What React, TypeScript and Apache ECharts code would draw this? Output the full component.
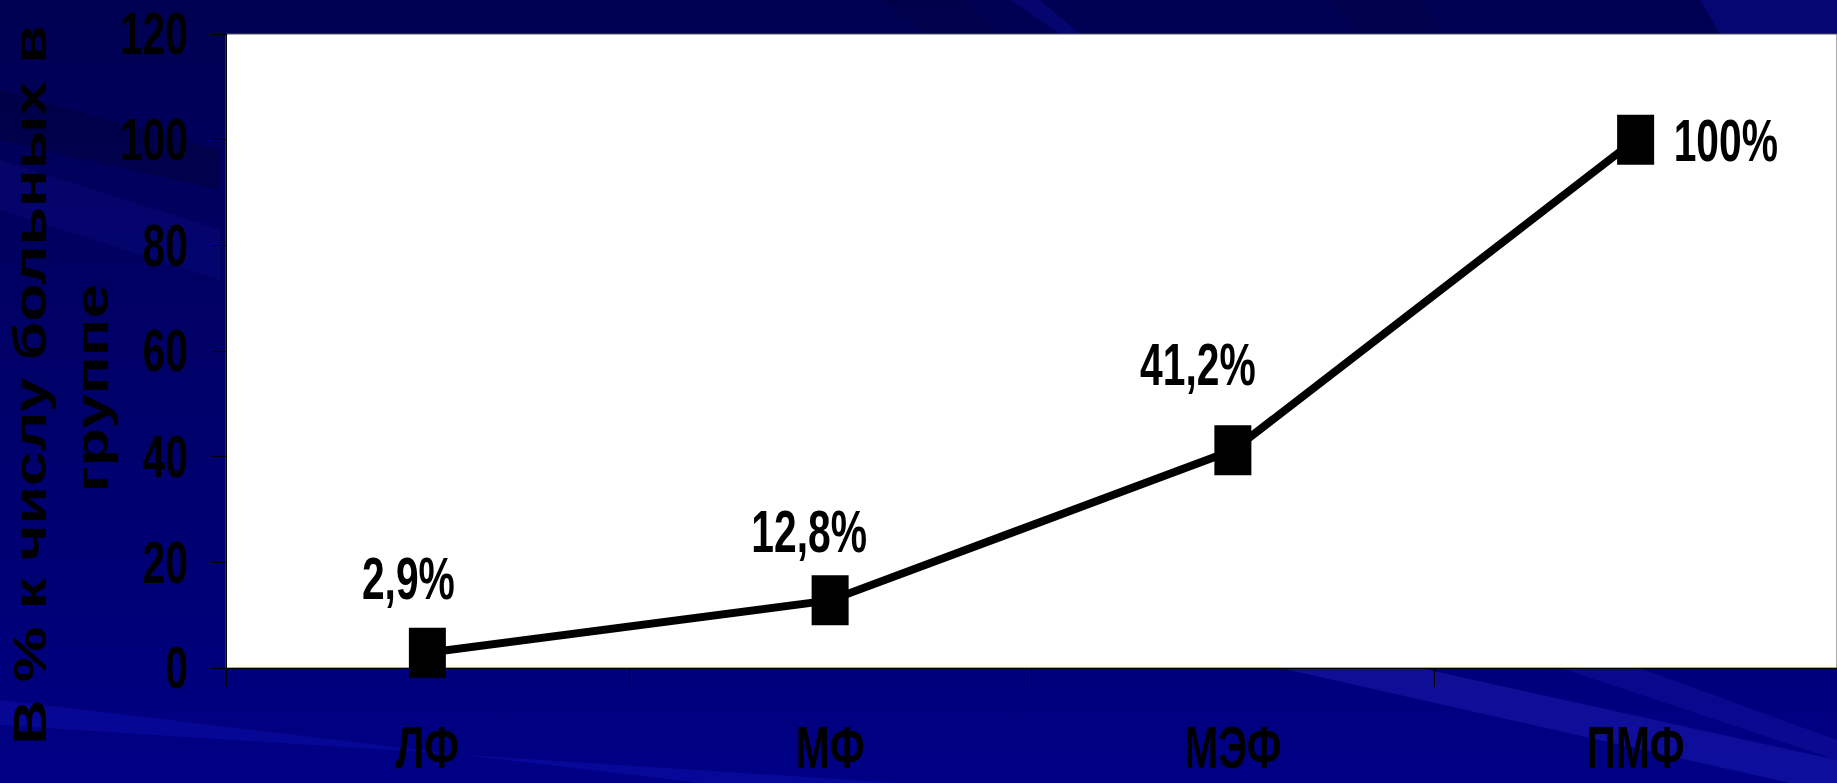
import React, { useEffect, useRef } from "react";
import * as echarts from "echarts";

// Groups along the x axis and the share of patients in each (percent)
const categories = ["ЛФ", "МФ", "МЭФ", "ПМФ"];
const percentValues = [2.9, 12.8, 41.2, 100];

// Value axis range
const yMin = 0;
const yMax = 120;
const yStep = 20;

// Axis title, two lines
const yTitleLines = ["В % к числу больных в", "группе"];

const FONT = "'Liberation Sans', Arial, sans-serif";
// tall, narrow lettering for numbers and group names
const NARROW_SCALE = 0.68;
const NARROW_SIZE = 60;

const GRID = { left: 226, top: 34, right: 0, bottom: 115 };

const formatPercent = (v: number) => String(v).replace(".", ",") + "%";

export default function App() {
  const ref = useRef<HTMLDivElement | null>(null);

  useEffect(() => {
    if (!ref.current) return;
    const chart = echarts.init(ref.current, undefined, { renderer: "svg" });

    chart.setOption({
      animation: false,
      backgroundColor: "transparent",
      grid: {
        ...GRID,
        show: true,
        backgroundColor: "#ffffff",
        borderColor: "#555555",
        borderWidth: 1,
      },
      xAxis: {
        type: "category",
        data: categories,
        boundaryGap: true,
        axisLine: { show: true, lineStyle: { color: "#000000", width: 1 } },
        axisTick: { show: true, length: 19, lineStyle: { color: "#000000", width: 1 } },
        axisLabel: { show: false },
        splitLine: { show: false },
      },
      yAxis: {
        type: "value",
        min: yMin,
        max: yMax,
        interval: yStep,
        axisLine: { show: true, lineStyle: { color: "#000000", width: 1 } },
        axisTick: { show: true, length: 14, lineStyle: { color: "#000000", width: 1 } },
        axisLabel: { show: false },
        splitLine: { show: false },
      },
      series: [
        {
          type: "line",
          data: percentValues,
          symbol: "rect",
          symbolSize: [37, 50],
          itemStyle: { color: "#000000" },
          lineStyle: { color: "#000000", width: 8 },
          label: { show: false },
          z: 3,
        },
      ],
    });

    const narrowText = (
      text: string,
      x: number,
      y: number,
      align: "left" | "center" | "right"
    ) => ({
      type: "text",
      x,
      y,
      scaleX: NARROW_SCALE,
      z: 20,
      silent: true,
      style: {
        text,
        fill: "#000000",
        font: `bold ${NARROW_SIZE}px ${FONT}`,
        lineHeight: 50,
        textAlign: align,
        textVerticalAlign: "middle",
        align,
        verticalAlign: "middle",
      },
    });

    const zeroY = chart.convertToPixel({ yAxisIndex: 0 }, 0) as number;

    // value-axis tick labels
    const yLabels: any[] = [];
    for (let v = yMin; v <= yMax; v += yStep) {
      const y = chart.convertToPixel({ yAxisIndex: 0 }, v) as number;
      yLabels.push(narrowText(String(v), GRID.left - 38, y, "right"));
    }

    // category labels under the axis
    const xLabels = categories.map((c, i) => {
      const x = chart.convertToPixel({ xAxisIndex: 0 }, i) as number;
      return narrowText(c, x, zeroY + 80, "center");
    });

    // value labels beside each point
    const labelShift: [number, number, "left" | "center"][] = [
      [-19, -74, "center"],
      [-21, -69, "center"],
      [-35, -86, "center"],
      [38, 1, "left"],
    ];
    const valueLabels = percentValues.map((v, i) => {
      const [px, py] = chart.convertToPixel({ gridIndex: 0 }, [i, v]) as number[];
      const [dx, dy, align] = labelShift[i];
      return narrowText(formatPercent(v), px + dx, py + dy, align);
    });

    const streak = (points: number[][], fill: string) => ({
      type: "polygon",
      z: -10,
      silent: true,
      shape: { points },
      style: { fill },
    });

    const titles = yTitleLines.map((line, i) => ({
      type: "text",
      x: i === 0 ? 30 : 92,
      y: i === 0 ? 385 : 388,
      rotation: Math.PI / 2,
      scaleX: 1.33,
      z: 20,
      silent: true,
      style: {
        text: line,
        fill: "#000000",
        font: `bold 47px ${FONT}`,
        textAlign: "center",
        textVerticalAlign: "middle",
        align: "center",
        verticalAlign: "middle",
      },
    }));

    chart.setOption({
      graphic: [
        // soft diagonal light streaks in the backdrop
        streak([[0, 700], [0, 725], [900, 783], [700, 783]], "rgba(20,20,190,0.35)"),
        streak([[1280, 668], [1420, 668], [1837, 760], [1837, 783], [1790, 783]], "rgba(40,40,200,0.35)"),
        streak([[1560, 668], [1640, 668], [1837, 740], [1837, 760]], "rgba(40,40,200,0.22)"),
        streak([[880, 0], [960, 0], [1000, 34], [930, 34]], "rgba(0,0,60,0.35)"),
        streak([[1010, 0], [1040, 0], [1080, 34], [1060, 34]], "rgba(20,20,190,0.25)"),
        streak([[1330, 0], [1420, 0], [1440, 34], [1360, 34]], "rgba(0,0,60,0.3)"),
        streak([[1700, 0], [1837, 0], [1837, 34], [1720, 34]], "rgba(20,20,190,0.3)"),
        streak([[0, 90], [220, 150], [220, 190], [0, 140]], "rgba(0,0,40,0.3)"),
        streak([[0, 160], [220, 230], [220, 280], [0, 210]], "rgba(20,20,160,0.2)"),
        ...titles,
        ...yLabels,
        ...xLabels,
        ...valueLabels,
      ],
    });

    return () => chart.dispose();
  }, []);

  return (
    <div
      ref={ref}
      style={{
        position: "fixed",
        left: 0,
        top: 0,
        width: "1837px",
        height: "783px",
        background:
          "linear-gradient(180deg, #000052 0%, #00005e 25%, #00006c 55%, #000078 80%, #000086 100%)",
      }}
    />
  );
}
